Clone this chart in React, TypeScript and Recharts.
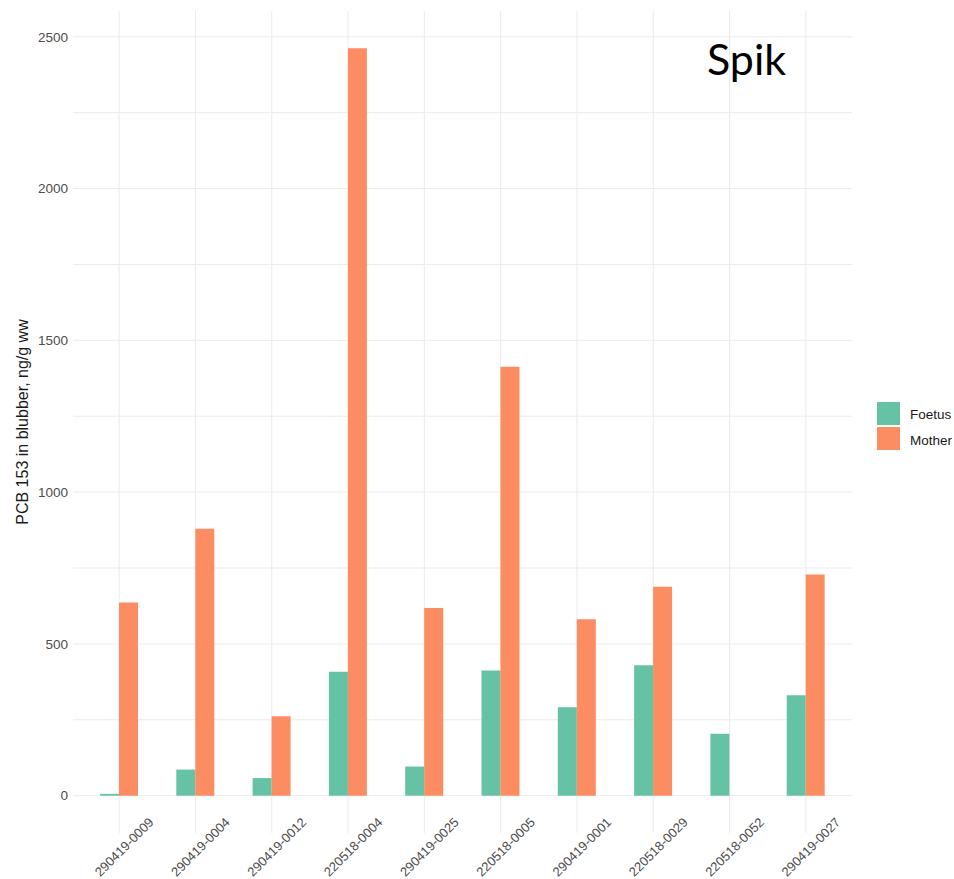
import React from "react";
import { BarChart, Bar, XAxis, YAxis, CartesianGrid } from "recharts";

const samples = [
  "290419-0009",
  "290419-0004",
  "290419-0012",
  "220518-0004",
  "290419-0025",
  "220518-0005",
  "290419-0001",
  "220518-0029",
  "220518-0052",
  "290419-0027",
];
const foetus = [6, 86, 58, 408, 96, 412, 291, 430, 204, 331];
const mother: (number | null)[] = [636, 879, 262, 2462, 618, 1413, 581, 688, null, 729];
const yTicks = [0, 250, 500, 750, 1000, 1250, 1500, 1750, 2000, 2250, 2500];

const FOETUS = "#66c2a5";
const MOTHER = "#fc8d62";

const data = samples.map((s, i) => ({ sample: s, Foetus: foetus[i], Mother: mother[i] }));

function XTick(props: any) {
  const { x, y, payload } = props;
  const cx = x + 5;
  const cy = y + 14;
  return (
    <text
      x={cx}
      y={cy}
      textAnchor="middle"
      dominantBaseline="central"
      transform={`rotate(-45, ${cx}, ${cy})`}
      fontSize={13}
      fill="#4d4d4d"
      fontFamily="'Liberation Sans', Arial, sans-serif"
    >
      {payload.value}
    </text>
  );
}

export default function App() {
  return (
    <div style={{ position: "absolute", left: 0, top: 0, width: 954, height: 879, background: "#fff" }}>
      <BarChart
        width={954}
        height={879}
        data={data}
        margin={{ top: 11, right: 102, bottom: 0, left: 0 }}
        barGap={0}
        style={{ fontFamily: "'Liberation Sans', Arial, sans-serif" }}
      >
        <CartesianGrid stroke="#ebebeb" strokeWidth={1} syncWithTicks />
        <XAxis
          dataKey="sample"
          height={46}
          padding={{ left: 8, right: 8 }}
          axisLine={false}
          tickLine={false}
          tickSize={0}
          tickMargin={0}
          interval={0}
          tick={<XTick />}
        />
        <YAxis
          width={73}
          domain={[-123, 2585]}
          ticks={yTicks}
          allowDataOverflow
          axisLine={false}
          tickLine={false}
          tickSize={0}
          tickMargin={5}
          tick={{ fontSize: 13.5, fill: "#4d4d4d" }}
          tickFormatter={(v: number) => (v % 500 === 0 ? String(v) : "")}
          label={{
            value: "PCB 153 in blubber, ng/g ww",
            angle: -90,
            position: "center",
            dx: -14,
            fontSize: 16,
            fill: "#1a1a1a",
          }}
        />
        <Bar dataKey="Foetus" fill={FOETUS} barSize={19} isAnimationActive={false} />
        <Bar dataKey="Mother" fill={MOTHER} barSize={19} isAnimationActive={false} />
      </BarChart>
      <svg
        width={954}
        height={879}
        style={{ position: "absolute", left: 0, top: 0, pointerEvents: "none" }}
        fontFamily="'Liberation Sans', Arial, sans-serif"
      >
        <text x={707} y={75} fontSize={43} fill="#000" fontFamily="Lato, 'Open Sans', sans-serif">
          Spik
        </text>
        <rect x={877} y={402} width={23} height={23} fill={FOETUS} />
        <rect x={877} y={427} width={23} height={23} fill={MOTHER} />
        <text x={910} y={414} fontSize={13.5} fill="#1a1a1a" dominantBaseline="central">
          Foetus
        </text>
        <text x={910} y={440} fontSize={13.5} fill="#1a1a1a" dominantBaseline="central">
          Mother
        </text>
      </svg>
    </div>
  );
}
